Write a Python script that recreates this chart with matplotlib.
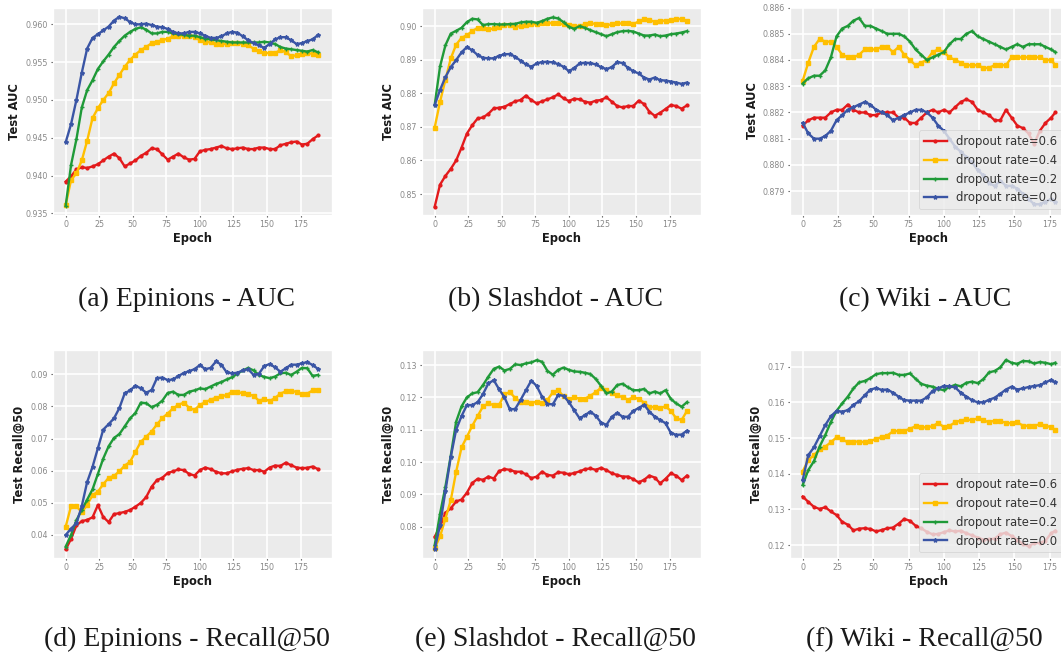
import numpy as np
import matplotlib
matplotlib.use('Agg')
import matplotlib.pyplot as plt
from matplotlib.ticker import FormatStrFormatter

epochs = np.arange(0, 190, 4)
epochs_wiki = np.append(np.arange(0, 180, 4), 179)
labels = ['dropout rate=0.6', 'dropout rate=0.4', 'dropout rate=0.2', 'dropout rate=0.0']

# (a) Epinions - AUC
epi_auc_06 = [0.9392, 0.9399, 0.9408, 0.9411, 0.9410, 0.9412, 0.9415, 0.9420, 0.9425, 0.9429,
              0.9423, 0.9412, 0.9416, 0.9420, 0.9426, 0.9430, 0.9436, 0.9435, 0.9428, 0.9421,
              0.9425, 0.9429, 0.9424, 0.9421, 0.9422, 0.9432, 0.9434, 0.9435, 0.9437, 0.9439,
              0.9436, 0.9435, 0.9436, 0.9437, 0.9435, 0.9435, 0.9437, 0.9437, 0.9435, 0.9435,
              0.9440, 0.9442, 0.9444, 0.9445, 0.9441, 0.9442, 0.9448, 0.9453]
epi_auc_04 = [0.9361, 0.9394, 0.9403, 0.9420, 0.9446, 0.9476, 0.9489, 0.9500, 0.9509, 0.9522,
              0.9533, 0.9544, 0.9553, 0.9560, 0.9566, 0.9570, 0.9575, 0.9577, 0.9579, 0.9581,
              0.9584, 0.9585, 0.9585, 0.9585, 0.9583, 0.9579, 0.9577, 0.9576, 0.9574, 0.9574,
              0.9574, 0.9575, 0.9575, 0.9574, 0.9572, 0.9568, 0.9565, 0.9562, 0.9562, 0.9562,
              0.9566, 0.9563, 0.9558, 0.9559, 0.9561, 0.9562, 0.9561, 0.9559]
epi_auc_02 = [0.9360, 0.9414, 0.9448, 0.9490, 0.9513, 0.9526, 0.9541, 0.9551, 0.9560, 0.9570,
              0.9578, 0.9585, 0.9590, 0.9594, 0.9596, 0.9593, 0.9588, 0.9588, 0.9590, 0.9590,
              0.9588, 0.9587, 0.9586, 0.9585, 0.9585, 0.9583, 0.9581, 0.9580, 0.9579, 0.9578,
              0.9577, 0.9576, 0.9576, 0.9576, 0.9576, 0.9576, 0.9576, 0.9577, 0.9576, 0.9574,
              0.9570, 0.9568, 0.9567, 0.9566, 0.9565, 0.9564, 0.9566, 0.9563]
epi_auc_00 = [0.9444, 0.9468, 0.9500, 0.9536, 0.9568, 0.9582, 0.9587, 0.9592, 0.9597, 0.9605,
              0.9610, 0.9608, 0.9603, 0.9600, 0.9600, 0.9601, 0.9599, 0.9597, 0.9596, 0.9594,
              0.9590, 0.9588, 0.9588, 0.9590, 0.9590, 0.9588, 0.9585, 0.9582, 0.9582, 0.9584,
              0.9588, 0.9590, 0.9589, 0.9584, 0.9579, 0.9575, 0.9572, 0.9569, 0.9574, 0.9580,
              0.9583, 0.9583, 0.9579, 0.9574, 0.9575, 0.9578, 0.9580, 0.9586]

# (b) Slashdot - AUC
sla_auc_06 = [0.8462, 0.8528, 0.8554, 0.8575, 0.8600, 0.8638, 0.8680, 0.8705, 0.8725, 0.8728,
              0.8739, 0.8755, 0.8757, 0.8760, 0.8768, 0.8776, 0.8780, 0.8793, 0.8780, 0.8770,
              0.8776, 0.8782, 0.8788, 0.8797, 0.8785, 0.8777, 0.8784, 0.8782, 0.8775, 0.8772,
              0.8778, 0.8780, 0.8788, 0.8775, 0.8762, 0.8758, 0.8762, 0.8762, 0.8778, 0.8768,
              0.8745, 0.8733, 0.8742, 0.8753, 0.8765, 0.8762, 0.8754, 0.8764]
sla_auc_04 = [0.8698, 0.8775, 0.8840, 0.8904, 0.8945, 0.8965, 0.8973, 0.8985, 0.8995, 0.8994,
              0.8990, 0.8993, 0.8998, 0.9004, 0.9003, 0.8998, 0.9000, 0.9002, 0.9005, 0.9007,
              0.9008, 0.9008, 0.9010, 0.9008, 0.9005, 0.9002, 0.9000, 0.9000, 0.9005, 0.9008,
              0.9007, 0.9005, 0.9003, 0.9005, 0.9008, 0.9008, 0.9008, 0.9006, 0.9014, 0.9020,
              0.9018, 0.9013, 0.9016, 0.9016, 0.9017, 0.9020, 0.9022, 0.9015]
sla_auc_02 = [0.8765, 0.8880, 0.8943, 0.8978, 0.8986, 0.8995, 0.9012, 0.9022, 0.9020, 0.9003,
              0.9006, 0.9006, 0.9005, 0.9005, 0.9006, 0.9007, 0.9011, 0.9013, 0.9013, 0.9010,
              0.9015, 0.9022, 0.9026, 0.9023, 0.9012, 0.8998, 0.8992, 0.9000, 0.8995, 0.8988,
              0.8982, 0.8976, 0.8970, 0.8976, 0.8982, 0.8985, 0.8986, 0.8984, 0.8978, 0.8972,
              0.8972, 0.8975, 0.8970, 0.8972, 0.8976, 0.8978, 0.8981, 0.8985]
sla_auc_00 = [0.8765, 0.8810, 0.8848, 0.8878, 0.8899, 0.8922, 0.8938, 0.8928, 0.8914, 0.8906,
              0.8904, 0.8904, 0.8912, 0.8916, 0.8917, 0.8909, 0.8897, 0.8886, 0.8879, 0.8889,
              0.8893, 0.8894, 0.8892, 0.8887, 0.8879, 0.8866, 0.8875, 0.8889, 0.8891, 0.8890,
              0.8886, 0.8878, 0.8872, 0.8878, 0.8893, 0.8890, 0.8876, 0.8866, 0.8859, 0.8847,
              0.8841, 0.8847, 0.8839, 0.8838, 0.8835, 0.8832, 0.8828, 0.8832]

# (c) Wiki - AUC
wiki_auc_06 = [0.8815, 0.8817, 0.8818, 0.8818, 0.8818, 0.8820, 0.8821, 0.8821, 0.8823, 0.8821,
               0.8820, 0.8820, 0.8819, 0.8819, 0.8820, 0.8820, 0.8820, 0.8818, 0.8818, 0.8816,
               0.8816, 0.8818, 0.8820, 0.8821, 0.8820, 0.8821, 0.8820, 0.8822, 0.8824, 0.8825,
               0.8824, 0.8821, 0.8820, 0.8819, 0.8817, 0.8817, 0.8821, 0.8818, 0.8815, 0.8814,
               0.8812, 0.8808, 0.8813, 0.8816, 0.8818, 0.8820]
wiki_auc_04 = [0.8832, 0.8839, 0.8845, 0.8848, 0.8847, 0.8847, 0.8845, 0.8842, 0.8841, 0.8841,
               0.8842, 0.8844, 0.8844, 0.8844, 0.8845, 0.8845, 0.8843, 0.8845, 0.8842, 0.8840,
               0.8838, 0.8839, 0.8840, 0.8843, 0.8844, 0.8843, 0.8841, 0.8840, 0.8839, 0.8838,
               0.8838, 0.8838, 0.8837, 0.8837, 0.8838, 0.8838, 0.8838, 0.8841, 0.8841, 0.8841,
               0.8841, 0.8841, 0.8841, 0.8840, 0.8840, 0.8838]
wiki_auc_02 = [0.8831, 0.8833, 0.8834, 0.8834, 0.8836, 0.8841, 0.8849, 0.8852, 0.8853, 0.8855,
               0.8856, 0.8853, 0.8853, 0.8852, 0.8851, 0.8850, 0.8850, 0.8850, 0.8849, 0.8847,
               0.8844, 0.8842, 0.8840, 0.8841, 0.8842, 0.8843, 0.8846, 0.8848, 0.8848, 0.8850,
               0.8851, 0.8849, 0.8848, 0.8847, 0.8846, 0.8845, 0.8844, 0.8845, 0.8846, 0.8845,
               0.8846, 0.8846, 0.8846, 0.8845, 0.8844, 0.8843]
wiki_auc_00 = [0.8816, 0.8812, 0.8810, 0.8810, 0.8811, 0.8813, 0.8817, 0.8819, 0.8821, 0.8822,
               0.8823, 0.8824, 0.8823, 0.8821, 0.8820, 0.8819, 0.8817, 0.8818, 0.8819, 0.8820,
               0.8821, 0.8821, 0.8820, 0.8818, 0.8815, 0.8813, 0.8810, 0.8807, 0.8805, 0.8803,
               0.8801, 0.8798, 0.8796, 0.8793, 0.8792, 0.8794, 0.8792, 0.8792, 0.8791, 0.8789,
               0.8787, 0.8785, 0.8785, 0.8786, 0.8787, 0.8786]

# (d) Epinions - Recall@50
epi_rec_06 = [0.0355, 0.0388, 0.0430, 0.0443, 0.0447, 0.0455, 0.0493, 0.0456, 0.0440, 0.0465,
              0.0468, 0.0472, 0.0478, 0.0488, 0.0500, 0.0518, 0.0550, 0.0571, 0.0578, 0.0593,
              0.0598, 0.0604, 0.0602, 0.0590, 0.0585, 0.0602, 0.0610, 0.0605, 0.0597, 0.0592,
              0.0592, 0.0598, 0.0603, 0.0606, 0.0608, 0.0602, 0.0602, 0.0597, 0.0610, 0.0616,
              0.0615, 0.0625, 0.0617, 0.0610, 0.0608, 0.0609, 0.0613, 0.0605]
epi_rec_04 = [0.0426, 0.0490, 0.0490, 0.0470, 0.0494, 0.0524, 0.0535, 0.0558, 0.0578, 0.0584,
              0.0598, 0.0616, 0.0628, 0.0659, 0.0690, 0.0706, 0.0722, 0.0744, 0.0764, 0.0778,
              0.0794, 0.0805, 0.0812, 0.0796, 0.0789, 0.0805, 0.0813, 0.0821, 0.0827, 0.0831,
              0.0836, 0.0845, 0.0845, 0.0841, 0.0838, 0.0833, 0.0818, 0.0823, 0.0817, 0.0826,
              0.0840, 0.0847, 0.0849, 0.0845, 0.0838, 0.0840, 0.0850, 0.0851]
epi_rec_02 = [0.0364, 0.0400, 0.0446, 0.0478, 0.0510, 0.0542, 0.0590, 0.0638, 0.0676, 0.0702,
              0.0714, 0.0738, 0.0763, 0.0780, 0.0812, 0.0810, 0.0798, 0.0805, 0.0818, 0.0842,
              0.0846, 0.0836, 0.0836, 0.0846, 0.0850, 0.0856, 0.0854, 0.0862, 0.0870, 0.0876,
              0.0884, 0.0891, 0.0902, 0.0912, 0.0920, 0.0912, 0.0898, 0.0892, 0.0888, 0.0893,
              0.0903, 0.0905, 0.0898, 0.0908, 0.0920, 0.0919, 0.0895, 0.0898]
epi_rec_00 = [0.0400, 0.0420, 0.0436, 0.0490, 0.0565, 0.0612, 0.0670, 0.0728, 0.0745, 0.0763,
              0.0795, 0.0841, 0.0850, 0.0865, 0.0856, 0.0843, 0.0851, 0.0888, 0.0890, 0.0882,
              0.0884, 0.0895, 0.0904, 0.0910, 0.0916, 0.0929, 0.0916, 0.0920, 0.0940, 0.0930,
              0.0906, 0.0903, 0.0905, 0.0912, 0.0916, 0.0898, 0.0902, 0.0926, 0.0932, 0.0922,
              0.0908, 0.0919, 0.0930, 0.0930, 0.0934, 0.0938, 0.0929, 0.0917]

# (e) Slashdot - Recall@50
sla_rec_06 = [0.0769, 0.0800, 0.0843, 0.0857, 0.0878, 0.0884, 0.0905, 0.0935, 0.0948, 0.0945,
              0.0955, 0.0949, 0.0972, 0.0978, 0.0976, 0.0970, 0.0970, 0.0962, 0.0950, 0.0955,
              0.0970, 0.0960, 0.0958, 0.0968, 0.0967, 0.0962, 0.0966, 0.0971, 0.0978, 0.0980,
              0.0976, 0.0982, 0.0975, 0.0965, 0.0960, 0.0955, 0.0955, 0.0947, 0.0937, 0.0945,
              0.0958, 0.0952, 0.0934, 0.0948, 0.0965, 0.0958, 0.0944, 0.0958]
sla_rec_04 = [0.0733, 0.0770, 0.0825, 0.0882, 0.0970, 0.1045, 0.1078, 0.1112, 0.1142, 0.1172,
              0.1181, 0.1176, 0.1176, 0.1210, 0.1216, 0.1198, 0.1185, 0.1186, 0.1182, 0.1187,
              0.1181, 0.1192, 0.1215, 0.1222, 0.1203, 0.1194, 0.1200, 0.1196, 0.1196, 0.1205,
              0.1216, 0.1230, 0.1223, 0.1212, 0.1207, 0.1200, 0.1193, 0.1200, 0.1195, 0.1184,
              0.1170, 0.1170, 0.1167, 0.1172, 0.1158, 0.1135, 0.1130, 0.1158]
sla_rec_02 = [0.0743, 0.0840, 0.0924, 0.1020, 0.1125, 0.1172, 0.1200, 0.1212, 0.1216, 0.1238,
              0.1264, 0.1288, 0.1295, 0.1283, 0.1288, 0.1302, 0.1300, 0.1305, 0.1308, 0.1315,
              0.1310, 0.1282, 0.1270, 0.1285, 0.1292, 0.1285, 0.1280, 0.1279, 0.1276, 0.1272,
              0.1257, 0.1235, 0.1212, 0.1218, 0.1238, 0.1242, 0.1231, 0.1222, 0.1222, 0.1226,
              0.1212, 0.1218, 0.1212, 0.1222, 0.1195, 0.1181, 0.1171, 0.1185]
sla_rec_00 = [0.0730, 0.0805, 0.0910, 0.1016, 0.1100, 0.1142, 0.1176, 0.1176, 0.1185, 0.1210,
              0.1243, 0.1253, 0.1225, 0.1200, 0.1163, 0.1164, 0.1192, 0.1222, 0.1252, 0.1235,
              0.1202, 0.1180, 0.1178, 0.1207, 0.1205, 0.1185, 0.1160, 0.1135, 0.1145, 0.1156,
              0.1143, 0.1122, 0.1115, 0.1140, 0.1152, 0.1140, 0.1140, 0.1158, 0.1167, 0.1177,
              0.1156, 0.1140, 0.1130, 0.1120, 0.1090, 0.1084, 0.1085, 0.1097]

# (f) Wiki - Recall@50
wiki_rec_06 = [0.1336, 0.1321, 0.1307, 0.1301, 0.1306, 0.1294, 0.1284, 0.1265, 0.1257, 0.1241,
               0.1246, 0.1247, 0.1245, 0.1238, 0.1242, 0.1247, 0.1249, 0.1260, 0.1273, 0.1268,
               0.1254, 0.1247, 0.1237, 0.1230, 0.1231, 0.1236, 0.1241, 0.1238, 0.1240, 0.1233,
               0.1227, 0.1221, 0.1215, 0.1216, 0.1218, 0.1230, 0.1235, 0.1225, 0.1215, 0.1203,
               0.1197, 0.1205, 0.1206, 0.1212, 0.1233, 0.1240]
wiki_rec_04 = [0.1406, 0.1438, 0.1452, 0.1468, 0.1476, 0.1488, 0.1502, 0.1496, 0.1488, 0.1490,
               0.1490, 0.1488, 0.1492, 0.1497, 0.1503, 0.1507, 0.1519, 0.1520, 0.1520, 0.1526,
               0.1533, 0.1530, 0.1530, 0.1533, 0.1542, 0.1531, 0.1534, 0.1544, 0.1549, 0.1552,
               0.1550, 0.1555, 0.1550, 0.1544, 0.1549, 0.1547, 0.1543, 0.1541, 0.1544, 0.1535,
               0.1534, 0.1535, 0.1538, 0.1535, 0.1530, 0.1522]
wiki_rec_02 = [0.1368, 0.1410, 0.1435, 0.1476, 0.1508, 0.1545, 0.1576, 0.1597, 0.1616, 0.1639,
               0.1656, 0.1660, 0.1668, 0.1679, 0.1682, 0.1682, 0.1683, 0.1677, 0.1677, 0.1681,
               0.1666, 0.1652, 0.1647, 0.1644, 0.1638, 0.1634, 0.1643, 0.1649, 0.1645, 0.1655,
               0.1658, 0.1654, 0.1665, 0.1684, 0.1688, 0.1698, 0.1719, 0.1711, 0.1708, 0.1716,
               0.1715, 0.1709, 0.1713, 0.1711, 0.1707, 0.1711]
wiki_rec_00 = [0.1382, 0.1452, 0.1474, 0.1505, 0.1536, 0.1561, 0.1576, 0.1574, 0.1578, 0.1593,
               0.1603, 0.1620, 0.1636, 0.1640, 0.1635, 0.1636, 0.1627, 0.1616, 0.1606, 0.1605,
               0.1605, 0.1605, 0.1614, 0.1632, 0.1639, 0.1646, 0.1645, 0.1642, 0.1627, 0.1616,
               0.1606, 0.1600, 0.1600, 0.1607, 0.1613, 0.1624, 0.1636, 0.1644, 0.1636, 0.1639,
               0.1643, 0.1646, 0.1648, 0.1656, 0.1663, 0.1656]

plt.style.use('ggplot')
plt.rcParams['axes.facecolor'] = '#ebebeb'
plt.rcParams['grid.color'] = 'white'
plt.rcParams['grid.linewidth'] = 1.2

colors = ['#e31a1c', '#ffbf00', '#1f9a38', '#3a55a5']
markers = ['o', 's', '+', '*']
msizes = [2.0, 2.3, 3.0, 3.0]

W, H = 1061, 653
fig = plt.figure(figsize=(W / 100, H / 100), dpi=100)


def add_ax(left, top, right, bottom):
    # axes box given in pixels from the top-left corner
    return fig.add_axes([left / W, 1 - bottom / H, (right - left) / W, (bottom - top) / H])


panels = [
    # box, x, series, ylabel, ylim, yticks, fmt, caption, caption pos, legend
    ((53, 8, 332, 215), epochs, [epi_auc_06, epi_auc_04, epi_auc_02, epi_auc_00], 'Test AUC',
     (0.93478, 0.96216), np.arange(0.935, 0.9601, 0.005), '%.3f', '(a) Epinions - AUC', (187, 306), False),
    ((422, 8, 701, 215), epochs, [sla_auc_06, sla_auc_04, sla_auc_02, sla_auc_00], 'Test AUC',
     (0.84375, 0.9054), np.arange(0.85, 0.9001, 0.01), '%.2f', '(b) Slashdot - AUC', (555, 306), False),
    ((790, 7, 1068, 215), epochs_wiki, [wiki_auc_06, wiki_auc_04, wiki_auc_02, wiki_auc_00], 'Test AUC',
     (0.87809, 0.88602), np.arange(0.879, 0.88601, 0.001), '%.3f', '(c) Wiki - AUC', (925, 306), True),
    ((53, 350, 332, 558), epochs, [epi_rec_06, epi_rec_04, epi_rec_02, epi_rec_00], 'Test Recall@50',
     (0.03284, 0.09757), np.arange(0.04, 0.0901, 0.01), '%.2f', '(d) Epinions - Recall@50', (187, 646), False),
    ((422, 350, 701, 558), epochs, [sla_rec_06, sla_rec_04, sla_rec_02, sla_rec_00], 'Test Recall@50',
     (0.07032, 0.13464), np.arange(0.08, 0.1301, 0.01), '%.2f', '(e) Slashdot - Recall@50', (555, 646), False),
    ((790, 350, 1068, 558), epochs_wiki, [wiki_rec_06, wiki_rec_04, wiki_rec_02, wiki_rec_00], 'Test Recall@50',
     (0.11636, 0.17468), np.arange(0.12, 0.1701, 0.01), '%.2f', '(f) Wiki - Recall@50', (924, 646), True),
]

for box, x, series, ylab, ylim, yticks, fmt, caption, cpos, show_legend in panels:
    ax = add_ax(*box)
    for s, c, m, ms, lab in zip(series, colors, markers, msizes, labels):
        ax.plot(x, s, color=c, marker=m, markersize=ms, linewidth=1.7, label=lab)
    if x is epochs_wiki:
        ax.set_xlim(-8.95, 187.95)
    else:
        ax.set_xlim(-9.45, 198.45)
    ax.set_ylim(*ylim)
    ax.set_xticks(np.arange(0, 176, 25))
    ax.set_yticks(yticks)
    ax.yaxis.set_major_formatter(FormatStrFormatter(fmt))
    ax.tick_params(axis='both', labelsize=5.7, labelcolor='#888888', color='#555555',
                   length=1.6, width=0.8, pad=2)
    ax.set_xlabel('Epoch', fontsize=8.3, fontweight='bold', color='#1a1a1a', labelpad=2)
    ax.set_ylabel(ylab, fontsize=8.3, fontweight='bold', color='#1a1a1a', labelpad=3)
    if show_legend:
        leg = ax.legend(loc='lower right', fontsize=8.4, framealpha=0.8)
        for t in leg.get_texts():
            t.set_color('#333333')
    fig.text(cpos[0] / W, 1 - cpos[1] / H, caption, ha='center', va='baseline',
             fontsize=20, family='Liberation Serif', color='#1a1a1a')

plt.savefig('out.png', dpi=100)
